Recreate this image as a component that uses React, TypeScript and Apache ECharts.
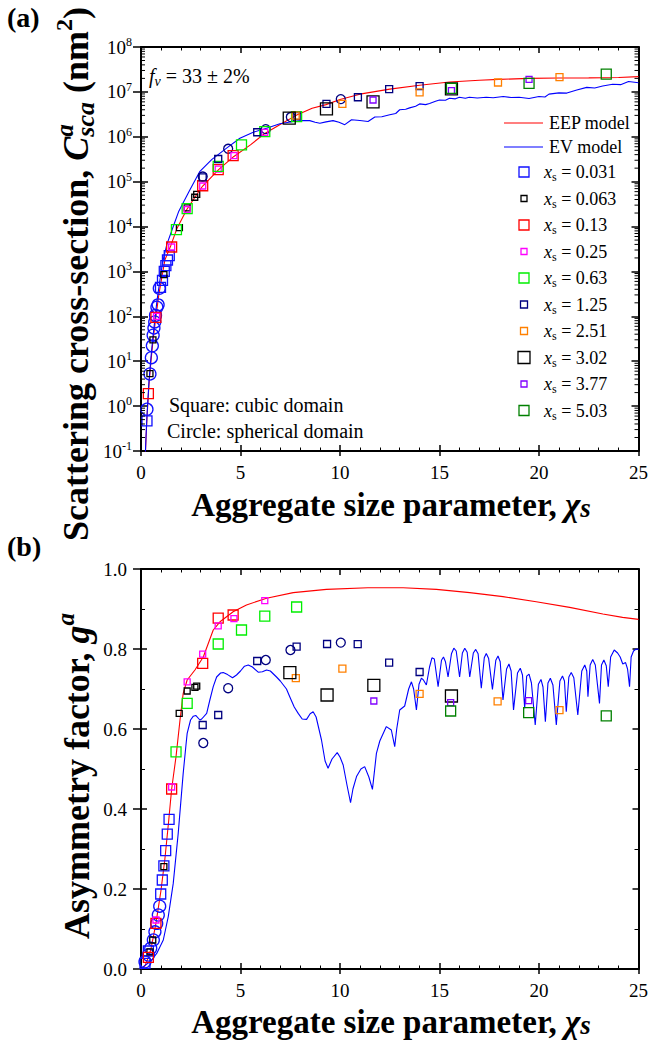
import React, { useEffect, useRef } from 'react';
import * as echarts from 'echarts';

const LS = '"Liberation Serif"';
const FONT = '"Liberation Serif", serif';

// ---------- Panel (a): scattering cross-section ----------
const eepA: [number, number][] = [[0.22,0.085],[0.25,0.18],[0.3,0.55],[0.35,1.3],[0.4,3.0],[0.5,10],[0.6,28],[0.75,100],[0.9,310],[1.0,560],[1.2,1800],[1.5,3800],[1.8,8900],[2.3,2.4e4],[2.75,4.8e4],[3.1,8.0e4],[3.9,1.86e5],[4.65,3.6e5],[5.5,6.6e5],[6.2,1.17e6],[7.1,2.0e6],[7.8,3.0e6],[8.6,4.3e6],[9.3,5.2e6],[10,6.8e6],[11,8.9e6],[12.5,1.15e7],[14,1.41e7],[15.5,1.66e7],[17,1.82e7],[18,1.9e7],[19.5,2.0e7],[21,2.04e7],[22.5,2.05e7],[24,2.09e7],[25,2.19e7]];
const evA: [number, number][] = [[0.22,0.09],[0.25,0.2],[0.3,0.6],[0.4,3.5],[0.5,12],[0.6,35],[0.8,220],[1.0,900],[1.12,1860],[1.3,4000],[1.62,1.0e4],[1.9,2.2e4],[2.12,3.4e4],[2.46,6.6e4],[2.96,1.7e5],[3.55,3.1e5],[4.3,5.6e5],[4.97,9.3e5],[5.64,1.26e6],[6.31,1.55e6],[6.98,1.95e6],[7.65,2.19e6],[8.1,2.3e6],[8.48,2.29e6],[8.75,2.1e6],[8.99,2.0e6],[9.3,2.15e6],[9.65,2.29e6],[9.95,2.1e6],[10.24,1.86e6],[10.58,2.4e6],[11.0,2.3e6],[11.41,2.19e6],[11.75,2.75e6],[12.1,2.8e6],[12.5,3.1e6],[12.8,3.3e6],[13.0,4.0e6],[13.3,4.1e6],[13.5,4.4e6],[13.8,4.8e6],[14.0,5.4e6],[14.3,5.2e6],[14.5,5.5e6],[14.8,6.2e6],[15.0,6.6e6],[15.3,6.5e6],[15.5,7.2e6],[15.8,7.0e6],[16.0,7.6e6],[16.3,7.2e6],[16.5,7.6e6],[16.9,7.3e6],[17.35,7.6e6],[17.7,7.4e6],[18.2,7.9e6],[18.6,7.5e6],[19.0,7.6e6],[19.5,7.1e6],[20.0,7.9e6],[20.3,7.7e6],[20.5,8.9e6],[21.0,9.5e6],[21.4,9.4e6],[21.9,1.1e7],[22.4,1.26e7],[22.8,1.22e7],[23.2,1.35e7],[23.7,1.48e7],[24.1,1.45e7],[24.5,1.7e7],[25,1.6e7]];

const a_0031: [number, number][] = [[0.3,0.47],[0.98,440],[1.08,630],[1.17,1000],[1.25,1350],[1.33,1800],[1.42,2240]];
const a_0031c: [number, number][] = [[0.3,0.85],[0.45,5.2],[0.52,12],[0.57,22],[0.61,38],[0.65,55],[0.69,75],[0.73,105],[0.8,160],[0.86,180],[0.92,420]];
const a_0063: [number, number][] = [[0.45,5.3],[0.6,30],[1.15,850],[1.93,9500],[2.32,2.6e4],[2.7,4.5e4],[2.8,5.2e4]];
const a_013: [number, number][] = [[0.37,1.9],[0.75,95],[1.54,3500],[3.1,8.1e4],[3.88,1.86e5],[4.63,3.8e5]];
const a_025: [number, number][] = [[0.78,100],[1.54,3500],[2.32,2.4e4],[3.1,8.0e4],[3.88,1.9e5],[4.67,3.8e5],[6.22,1.25e6]];
const a_063: [number, number][] = [[1.78,8500],[2.32,2.5e4],[3.88,2.2e5],[5.05,6.6e5],[6.22,1.3e6],[7.82,2.8e6]];
const a_125: [number, number][] = [[3.1,1.25e5],[3.88,3.2e5],[5.84,1.26e6],[7.82,2.9e6],[9.32,5.4e6],[10.9,7.6e6],[12.47,1.15e7],[14.0,1.35e7]];
const a_125c: [number, number][] = [[3.1,1.3e5],[4.38,5.4e5],[6.27,1.48e6],[7.53,2.75e6],[10.04,6.9e6]];
const a_251: [number, number][] = [[7.77,2.95e6],[10.12,5.4e6],[14.0,9.8e6],[17.94,1.62e7],[21.03,2.14e7]];
const a_302: [number, number][] = [[7.45,2.6e6],[9.32,4.2e6],[11.66,6.0e6],[15.6,1.17e7]];
const a_377: [number, number][] = [[11.66,6.6e6],[15.6,1.07e7],[19.5,1.9e7]];
const a_503: [number, number][] = [[15.6,1.2e7],[19.5,1.55e7],[23.38,2.5e7]];

// ---------- Panel (b): asymmetry factor ----------
const eepB: [number, number][] = [[0,0],[0.2,0.008],[0.37,0.029],[0.5,0.05],[0.75,0.114],[1.0,0.195],[1.2,0.275],[1.4,0.375],[1.54,0.45],[1.76,0.531],[1.96,0.6225],[2.12,0.689],[2.32,0.7225],[2.71,0.7475],[3.13,0.78],[3.63,0.8475],[3.97,0.868],[4.63,0.893],[5.3,0.91],[6.31,0.927],[7.65,0.941],[9.32,0.949],[11.4,0.953],[13.17,0.953],[14.84,0.949],[16.52,0.941],[18.19,0.931],[19.86,0.918],[21.54,0.904],[23.21,0.8875],[24.2,0.879],[25,0.874]];
const evB: [number, number][] = [[0,0],[0.12,0.006],[0.5,0.02],[0.79,0.039],[1.12,0.0725],[1.37,0.131],[1.62,0.214],[1.87,0.339],[2.12,0.489],[2.26,0.56],[2.32,0.589],[2.49,0.6225],[2.63,0.632],[2.75,0.634],[2.96,0.6225],[3.05,0.625],[3.3,0.639],[3.46,0.6725],[3.63,0.706],[3.8,0.73],[4.0,0.74],[4.13,0.741],[4.35,0.736],[4.6,0.728],[4.8,0.735],[5.0,0.745],[5.2,0.757],[5.39,0.76],[5.6,0.755],[5.89,0.742],[6.1,0.743],[6.31,0.7475],[6.5,0.745],[6.81,0.73],[7.0,0.72],[7.31,0.7],[7.48,0.68],[7.7,0.655],[7.9,0.639],[8.1,0.625],[8.32,0.624],[8.5,0.638],[8.65,0.643],[8.8,0.63],[9.07,0.5725],[9.25,0.52],[9.4,0.502],[9.6,0.525],[9.86,0.541],[10.0,0.53],[10.16,0.51],[10.35,0.46],[10.53,0.416],[10.65,0.45],[10.83,0.481],[11.05,0.5],[11.24,0.506],[11.45,0.48],[11.63,0.449],[11.83,0.539],[12.0,0.57],[12.33,0.606],[12.58,0.5975],[12.75,0.556],[12.85,0.6],[13.0,0.6475],[13.25,0.6575],[13.45,0.7],[13.59,0.718],[13.7,0.7],[13.84,0.6475],[13.97,0.712],[14.09,0.727],[14.2,0.722],[14.34,0.71],[14.5,0.755],[14.62,0.778],[14.74,0.775],[14.93,0.706],[15.1,0.772],[15.2,0.78],[15.3,0.768],[15.43,0.73],[15.6,0.788],[15.72,0.802],[15.84,0.795],[16.01,0.73],[16.15,0.79],[16.27,0.802],[16.39,0.792],[16.52,0.73],[16.7,0.79],[16.82,0.799],[16.94,0.788],[17.1,0.702],[17.25,0.778],[17.35,0.789],[17.47,0.776],[17.66,0.699],[17.83,0.772],[17.94,0.7825],[18.05,0.768],[18.19,0.6725],[18.37,0.75],[18.49,0.7625],[18.6,0.745],[18.72,0.6475],[18.92,0.74],[19.06,0.752],[19.17,0.735],[19.28,0.652],[19.38,0.732],[19.5,0.737],[19.62,0.715],[19.81,0.61],[19.97,0.712],[20.1,0.724],[20.2,0.705],[20.32,0.618],[20.45,0.715],[20.57,0.727],[20.7,0.71],[20.87,0.61],[21.05,0.72],[21.18,0.7325],[21.28,0.72],[21.37,0.643],[21.5,0.73],[21.62,0.741],[21.75,0.728],[21.95,0.635],[22.15,0.745],[22.3,0.76],[22.4,0.745],[22.46,0.681],[22.57,0.76],[22.7,0.774],[22.83,0.76],[23.04,0.664],[23.14,0.76],[23.26,0.7725],[23.38,0.758],[23.48,0.706],[23.6,0.78],[23.78,0.7975],[23.95,0.79],[24.08,0.78],[24.21,0.7625],[24.35,0.766],[24.45,0.75],[24.55,0.706],[24.63,0.78],[24.75,0.795],[24.88,0.8],[25,0.799]];

const b_0031: [number, number][] = [[0.2,0.014],[0.37,0.045],[0.99,0.1875],[1.07,0.2225],[1.15,0.258],[1.24,0.296],[1.32,0.337],[1.41,0.374]];
const b_0031c: [number, number][] = [[0.2,0.018],[0.37,0.035],[0.49,0.052],[0.62,0.0725],[0.7,0.093],[0.79,0.114],[0.87,0.135],[0.94,0.157]];
const b_0063: [number, number][] = [[0.45,0.043],[0.59,0.0725],[1.15,0.256],[1.92,0.639],[2.32,0.695],[2.71,0.704],[2.8,0.707]];
const b_013: [number, number][] = [[0.37,0.029],[0.75,0.114],[1.54,0.45],[3.1,0.764],[3.88,0.877],[4.63,0.885]];
const b_025: [number, number][] = [[0.75,0.1225],[1.54,0.455],[2.32,0.718],[3.1,0.787],[3.88,0.858],[4.67,0.876],[6.22,0.921]];
const b_063: [number, number][] = [[1.76,0.543],[2.32,0.664],[3.88,0.8125],[5.05,0.8475],[6.22,0.882],[7.82,0.905]];
const b_125: [number, number][] = [[3.1,0.61],[3.88,0.635],[5.84,0.77],[7.82,0.806],[9.35,0.8125],[10.89,0.812],[12.47,0.766],[14.0,0.7425]];
const b_125c: [number, number][] = [[3.13,0.565],[4.38,0.702],[6.27,0.7725],[7.51,0.7975],[10.04,0.816]];
const b_251: [number, number][] = [[7.78,0.727],[10.12,0.751],[14.0,0.688],[17.92,0.669],[21.03,0.647]];
const b_302: [number, number][] = [[7.48,0.741],[9.35,0.685],[11.7,0.709],[15.6,0.6825]];
const b_377: [number, number][] = [[11.7,0.67],[15.56,0.666],[19.48,0.671]];
const b_503: [number, number][] = [[15.56,0.645],[19.48,0.641],[23.38,0.633]];

// ---------- legend labels & tick values ----------
const xsLabels = ['0.031', '0.063', '0.13', '0.25', '0.63', '1.25', '2.51', '3.02', '3.77', '5.03'];
const xTicks = [0, 5, 10, 15, 20, 25];
const logDecades = [-1, 0, 1, 2, 3, 4, 5, 6, 7, 8];

// styles (not data)
const SERIES_COLORS = ['#1010FF', '#000000', '#FF0000', '#FF00FF', '#00EE00', '#000080', '#FF8000', '#000000', '#8000FF', '#008000'];
const SERIES_SIZES = [10, 6, 10, 6, 10, 7, 7, 12, 6, 10];

const canvas = typeof document !== 'undefined' ? document.createElement('canvas') : null;
const mctx = canvas ? canvas.getContext('2d') : null;
function tw(text: string, font: string): number {
  if (!mctx) return text.length * 10;
  mctx.font = font;
  return mctx.measureText(text).width;
}

type Seg = { t: string; f: string; dy?: number; overlap?: boolean };
function textRow(segs: Seg[], x: number, y: number, anchor: 'left' | 'center', rotate = false): any {
  let cur = 0;
  let prevStart = 0;
  const placed: { start: number; s: Seg }[] = [];
  for (const s of segs) {
    const start = s.overlap ? prevStart : cur;
    const w = tw(s.t, s.f);
    placed.push({ start, s });
    prevStart = start;
    cur = Math.max(cur, start + w);
  }
  const off = anchor === 'center' ? -cur / 2 : 0;
  return {
    type: 'group',
    x,
    y,
    rotation: rotate ? Math.PI / 2 : 0,
    silent: true,
    children: placed.map((p) => ({
      type: 'text',
      x: p.start + off,
      y: p.s.dy || 0,
      style: {
        text: p.s.t,
        font: p.s.f,
        fill: '#000',
        align: 'left',
        verticalAlign: 'middle',
        textAlign: 'left',
        textVerticalAlign: 'middle',
      },
    })),
  };
}

function buildOption(): any {
  const lineStyle = { color: '#000', width: 2 };
  const tickStyle = { color: '#000', width: 1.5 };
  const minorStyle = { color: '#000', width: 1 };
  const labelBase = { color: '#000', fontSize: 19, fontFamily: FONT };

  const xAxesFor = (gi: number) => {
    const base = { type: 'value', min: 0, max: 25, interval: 5, gridIndex: gi, splitLine: { show: false } };
    return [
      {
        ...base,
        position: 'bottom',
        axisLine: { show: true, onZero: false, lineStyle },
        axisTick: { show: true, inside: false, length: 5, lineStyle: tickStyle },
        axisLabel: { show: true, margin: 12, ...labelBase, formatter: (v: number) => (xTicks.includes(v) ? String(v) : '') },
      },
      {
        ...base,
        position: 'bottom',
        axisLine: { show: false, onZero: false },
        axisTick: { show: true, inside: true, length: 6, lineStyle: tickStyle },
        minorTick: { show: true, splitNumber: 5, length: 3.5, lineStyle: minorStyle },
        axisLabel: { show: false },
      },
      {
        ...base,
        position: 'top',
        axisLine: { show: true, onZero: false, lineStyle },
        axisTick: { show: true, inside: true, length: 6, lineStyle: tickStyle },
        minorTick: { show: true, splitNumber: 5, length: 3.5, lineStyle: minorStyle },
        axisLabel: { show: false },
      },
    ];
  };

  const logBase = { type: 'log', logBase: 10, min: 0.1, max: 1e8, splitNumber: 9, gridIndex: 0, splitLine: { show: false } };
  const yAxesA = [
    {
      ...logBase,
      position: 'left',
      axisLine: { show: true, onZero: false, lineStyle },
      axisTick: { show: true, inside: false, length: 8, lineStyle: tickStyle },
      axisLabel: {
        show: true,
        margin: 9,
        formatter: (v: number) => {
          const e = Math.round(Math.log10(v));
          return logDecades.includes(e) ? `{b|10}{s|${e}}` : '';
        },
        rich: {
          b: { ...labelBase },
          s: { color: '#000', fontSize: 12, fontFamily: FONT, padding: [0, 0, 10, 0] },
        },
      },
    },
    {
      ...logBase,
      position: 'left',
      axisLine: { show: false, onZero: false },
      axisTick: { show: true, inside: true, length: 7, lineStyle: tickStyle },
      axisLabel: { show: false },
    },
    {
      ...logBase,
      position: 'right',
      axisLine: { show: true, onZero: false, lineStyle },
      axisTick: { show: true, inside: true, length: 7, lineStyle: tickStyle },
      axisLabel: { show: false },
    },
  ];

  const linBase = { type: 'value', min: 0, max: 1, interval: 0.2, gridIndex: 1, splitLine: { show: false } };
  const yAxesB = [
    {
      ...linBase,
      position: 'left',
      axisLine: { show: true, onZero: false, lineStyle },
      axisTick: { show: true, inside: false, length: 8, lineStyle: tickStyle },
      axisLabel: { show: true, margin: 14, ...labelBase, formatter: (v: number) => v.toFixed(1) },
    },
    {
      ...linBase,
      position: 'left',
      axisLine: { show: false, onZero: false },
      axisTick: { show: true, inside: true, length: 6, lineStyle: tickStyle },
      minorTick: { show: true, splitNumber: 2, length: 4, lineStyle: minorStyle },
      axisLabel: { show: false },
    },
    {
      ...linBase,
      position: 'right',
      axisLine: { show: true, onZero: false, lineStyle },
      axisTick: { show: true, inside: true, length: 6, lineStyle: tickStyle },
      minorTick: { show: true, splitNumber: 2, length: 4, lineStyle: minorStyle },
      axisLabel: { show: false },
    },
  ];

  // log minor tick positions (2..9 x 10^n) for panel (a)
  const minorLog: [number, number][] = [];
  for (let n = -1; n < 8; n++) for (let k = 2; k <= 9; k++) minorLog.push([0, k * Math.pow(10, n)]);

  const scatter = (data: [number, number][], idx: number, ax: number, circle = false, size?: number) => ({
    type: 'scatter',
    xAxisIndex: ax,
    yAxisIndex: ax,
    data,
    symbol: circle ? 'circle' : 'rect',
    symbolSize: size ?? SERIES_SIZES[idx],
    itemStyle: { color: 'transparent', borderColor: SERIES_COLORS[idx], borderWidth: 1.3, opacity: 1 },
    z: 4,
    silent: true,
  });
  const line = (data: [number, number][], color: string, ax: number) => ({
    type: 'line',
    xAxisIndex: ax,
    yAxisIndex: ax,
    data,
    showSymbol: false,
    symbol: 'none',
    lineStyle: { color, width: 1.1 },
    z: 3,
    silent: true,
  });

  const aSets = [a_0031, a_0063, a_013, a_025, a_063, a_125, a_251, a_302, a_377, a_503];
  const bSets = [b_0031, b_0063, b_013, b_025, b_063, b_125, b_251, b_302, b_377, b_503];

  const series: any[] = [
    line(eepA, '#FF0000', 0),
    line(evA, '#0000FF', 0),
    line(eepB, '#FF0000', 3),
    line(evB, '#0000FF', 3),
    scatter(a_0031c, 0, 0, true, 12),
    scatter(a_125c, 5, 0, true, 9),
    scatter(b_0031c, 0, 3, true, 12),
    scatter(b_125c, 5, 3, true, 9),
    ...aSets.map((d, i) => scatter(d, i, 0)),
    ...bSets.map((d, i) => scatter(d, i, 3)),
    {
      type: 'custom',
      xAxisIndex: 0,
      yAxisIndex: 0,
      data: minorLog,
      clip: false,
      silent: true,
      z: 5,
      renderItem: (params: any, api: any) => {
        const v = api.value(1);
        const pl = api.coord([0, v]);
        const pr = api.coord([25, v]);
        return {
          type: 'group',
          children: [
            { type: 'line', shape: { x1: pl[0], y1: pl[1], x2: pl[0] + 4, y2: pl[1] }, style: { stroke: '#000', lineWidth: 1 } },
            { type: 'line', shape: { x1: pr[0] - 4, y1: pr[1], x2: pr[0], y2: pr[1] }, style: { stroke: '#000', lineWidth: 1 } },
          ],
        };
      },
    },
  ];

  const BX = `bold 33px ${LS}`;
  const BIX = `italic bold 33px ${LS}`;
  const BA = `bold 36px ${LS}`;
  const BIA = `italic bold 36px ${LS}`;
  const graphic: any[] = [
    textRow([{ t: '(a)', f: `bold 28px ${LS}` }], 7, 17, 'left'),
    textRow([{ t: '(b)', f: `bold 28px ${LS}` }], 7, 546, 'left'),
    textRow([{ t: 'Aggregate size parameter, ', f: BX }, { t: 'χ', f: BIX }, { t: 's', f: `italic bold 27px ${LS}`, dy: 3 }], 391, 505, 'center'),
    textRow([{ t: 'Aggregate size parameter, ', f: BX }, { t: 'χ', f: BIX }, { t: 's', f: `italic bold 27px ${LS}`, dy: 3 }], 391, 1022, 'center'),
    textRow(
      [
        { t: 'Scattering cross-section, ', f: BA },
        { t: 'C', f: BIA },
        { t: 'a', f: `italic bold 25px ${LS}`, dy: -12 },
        { t: 'sca', f: `italic bold 26px ${LS}`, dy: 9, overlap: true },
        { t: ' (nm', f: BA },
        { t: '2', f: `bold 24px ${LS}`, dy: -12 },
        { t: ')', f: BA },
      ],
      76, 274, 'center', true,
    ),
    textRow([{ t: 'Asymmetry factor, ', f: BA }, { t: 'g', f: BIA }, { t: 'a', f: `italic bold 25px ${LS}`, dy: -12 }], 77, 776, 'center', true),
    textRow([{ t: 'f', f: `italic 20px ${LS}` }, { t: 'v', f: `italic 14px ${LS}`, dy: 5 }, { t: ' = 33 ± 2%', f: `20px ${LS}` }], 149, 76, 'left'),
    textRow([{ t: 'Square: cubic domain', f: `20px ${LS}` }], 169, 405, 'left'),
    textRow([{ t: 'Circle: spherical domain', f: `20px ${LS}` }], 167, 431, 'left'),
    { type: 'line', shape: { x1: 504, y1: 123, x2: 543, y2: 123 }, style: { stroke: '#FF0000', lineWidth: 1.1 }, silent: true },
    textRow([{ t: 'EEP model', f: `18px ${LS}` }], 549, 123, 'left'),
    { type: 'line', shape: { x1: 504, y1: 147, x2: 543, y2: 147 }, style: { stroke: '#0000FF', lineWidth: 1.1 }, silent: true },
    textRow([{ t: 'EV model', f: `18px ${LS}` }], 549, 147, 'left'),
  ];
  xsLabels.forEach((lab, i) => {
    const cy = 172 + i * 26.5;
    const s = SERIES_SIZES[i];
    graphic.push({
      type: 'rect',
      shape: { x: 524 - s / 2, y: cy - s / 2, width: s, height: s },
      style: { fill: 'none', stroke: SERIES_COLORS[i], lineWidth: 1.3 },
      silent: true,
    });
    graphic.push(
      textRow([{ t: 'x', f: `italic 18px ${LS}` }, { t: 's', f: `12px ${LS}`, dy: 5 }, { t: ` = ${lab}`, f: `18px ${LS}` }], 544, cy, 'left'),
    );
  });

  return {
    animation: false,
    backgroundColor: '#fff',
    textStyle: { fontFamily: FONT },
    grid: [
      { left: 141, top: 47, width: 498, height: 404 },
      { left: 141, top: 569, width: 498, height: 400 },
    ],
    xAxis: [...xAxesFor(0), ...xAxesFor(1)],
    yAxis: [...yAxesA, ...yAxesB],
    series,
    graphic,
  };
}

export default function App() {
  const ref = useRef<HTMLDivElement>(null);
  useEffect(() => {
    if (!ref.current) return;
    const chart = echarts.init(ref.current, null, { renderer: 'svg' });
    chart.setOption(buildOption());
    return () => chart.dispose();
  }, []);
  return <div ref={ref} style={{ position: 'absolute', left: 0, top: 0, width: 651, height: 1045, background: '#fff' }} />;
}
